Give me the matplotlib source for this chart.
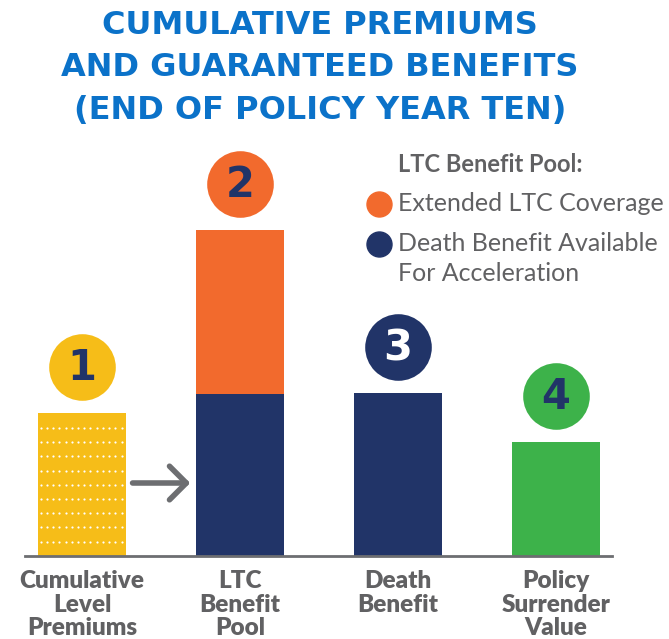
import numpy as np
import matplotlib
matplotlib.use("Agg")
import matplotlib.pyplot as plt

# chart data (relative heights)
categories = ["Cumulative\nLevel\nPremiums", "LTC\nBenefit\nPool", "Death\nBenefit", "Policy\nSurrender\nValue"]
base_values = [143, 162, 163, 114]
extended_values = [0, 164, 0, 0]
badges = ["1", "2", "3", "4"]
title_lines = ["CUMULATIVE PREMIUMS", "AND GUARANTEED BENEFITS", "(END OF POLICY YEAR TEN)"]
legend_title = "LTC Benefit Pool:"
legend_labels = ["Extended LTC Coverage", "Death Benefit Available\nFor Acceleration"]

# colours
YELLOW = "#f6bd18"
ORANGE = "#f26a2d"
NAVY = "#213468"
GREEN = "#3db24a"
GRAY = "#616163"
LINE_GRAY = "#6d6e71"
BLUE = "#0b72c9"

bar_colors = [YELLOW, NAVY, NAVY, GREEN]
badge_colors = [YELLOW, ORANGE, NAVY, GREEN]
badge_text_colors = [NAVY, NAVY, "white", NAVY]

W, H = 669, 639
fig = plt.figure(figsize=(W / 100, H / 100), dpi=100)


def fx(px):
    return px / W


def fy(py):
    return 1 - py / H


ax = fig.add_axes([fx(25), fy(556), fx(612) - fx(25), fy(140) - fy(556)])
x = np.arange(len(categories))
width = 0.557

bars = ax.bar(x, base_values, width=width, color=bar_colors, zorder=2)
ax.bar(x, extended_values, width=width, bottom=base_values, color=ORANGE, zorder=2)

# dotted texture on the premiums bar
b0 = bars[0]
x0, w0, h0 = b0.get_x(), b0.get_width(), b0.get_height()
rows = np.arange(h0 - 15, 8, -14.2)
cols = np.linspace(x0 + w0 * 0.03, x0 + w0 * 0.95, 14)
dx, dy = np.meshgrid(cols, rows)
ax.scatter(dx.ravel(), dy.ravel(), s=2.5, color="white", zorder=3, linewidths=0)

# numbered badges above each bar
totals = np.array(base_values) + np.array(extended_values)
for i, (t, lab) in enumerate(zip(totals, badges)):
    ax.scatter(x[i], t + 46, s=2300, color=badge_colors[i], zorder=4, clip_on=False, linewidths=0)
    ax.text(x[i], t + 45, lab, ha="center", va="center", fontsize=30, fontweight="bold",
            color=badge_text_colors[i], zorder=5, family="DejaVu Sans")

# arrow from premiums to the LTC pool
ax.annotate("", xy=(0.685, 73), xytext=(0.32, 73),
            arrowprops=dict(arrowstyle="->,head_length=0.55,head_width=0.55", mutation_scale=22,
                            color=LINE_GRAY, lw=4, shrinkA=0, shrinkB=0, capstyle="round",
                            joinstyle="round"))

ax.set_xlim((25 - 82) / 158, (612 - 82) / 158)
ax.set_ylim(0, 416)
for s in ["top", "left", "right"]:
    ax.spines[s].set_visible(False)
ax.spines["bottom"].set_color(LINE_GRAY)
ax.spines["bottom"].set_linewidth(2)
ax.spines["bottom"].set_zorder(6)
ax.set_yticks([])
ax.set_xticks(x)
ax.set_xticklabels(categories, fontsize=17.5, fontweight="heavy", color=GRAY,
                   family="Lato", linespacing=1.1)
ax.tick_params(axis="x", length=0, pad=10)

# title
for i, line in enumerate(title_lines):
    fig.text(fx(320), fy(25 + 42.5 * i), line, ha="center", va="center", fontsize=23,
             fontweight="bold", color=BLUE, family="DejaVu Sans")

# legend
fig.text(fx(398), fy(165), legend_title, ha="left", va="center", fontsize=17,
         fontweight="bold", color=GRAY, family="Lato")
leg_y = [204, 258.5]
for lab, ly, c in zip(legend_labels, leg_y, [ORANGE, NAVY]):
    ny = ly if "\n" not in lab else ly - 14.5
    fig.lines.append(plt.Line2D([fx(379)], [fy(ny)], marker="o", markersize=18, color=c,
                                transform=fig.transFigure, linestyle="none"))
    fig.text(fx(398), fy(ly), lab, ha="left", va="center",
             fontsize=18, color=GRAY, family="Lato", linespacing=1.35)

fig.savefig("out.png", dpi=100)
